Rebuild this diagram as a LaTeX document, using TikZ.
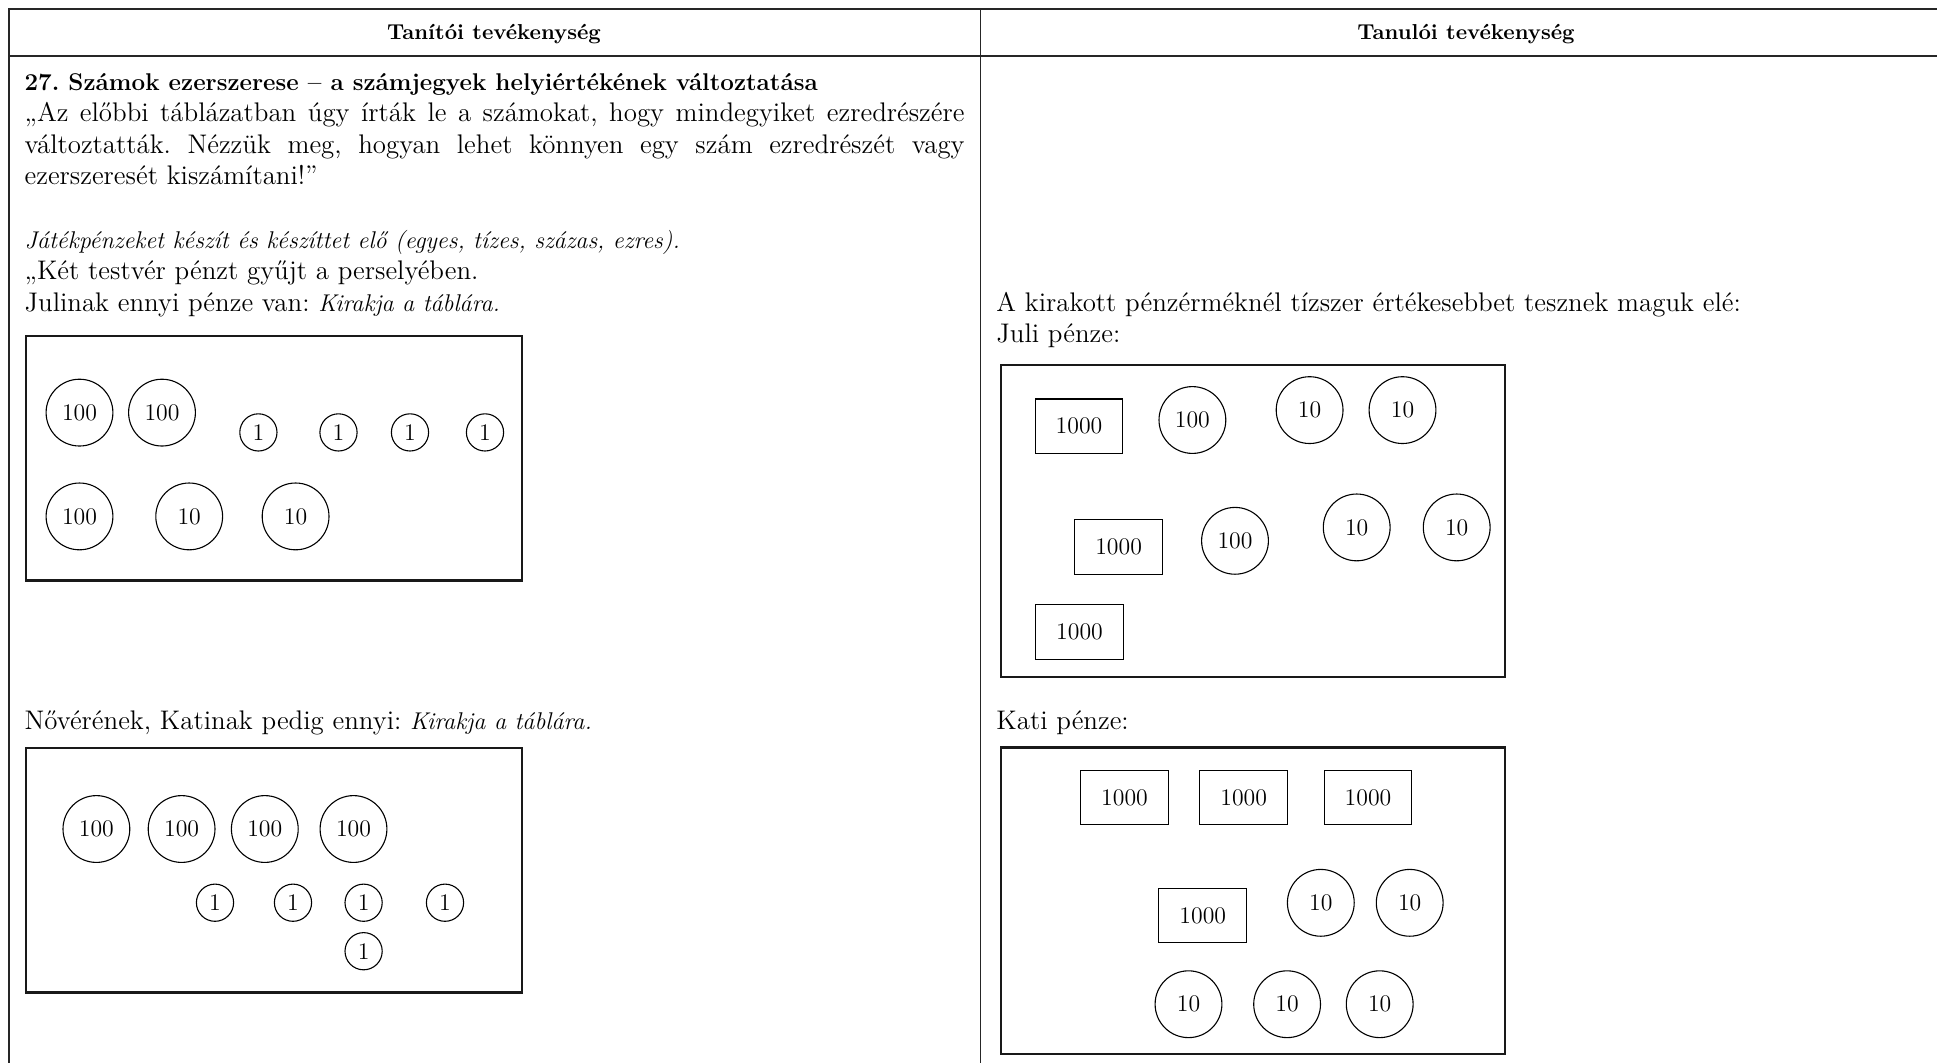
\documentclass[tikz,border=0pt]{standalone}
\newcommand\bodyfont{\fontsize{13.45}{15.8}\selectfont\frenchspacing}
\newcommand\itfont{\fontsize{12.1}{15.8}\selectfont\itshape}
\newcommand\titlefont{\fontsize{12.1}{15.8}\selectfont\bfseries\frenchspacing}
\newcommand\headfont{\fontsize{10.8}{13}\selectfont\bfseries}
\newcommand\coinfont{\fontsize{11.9}{12}\selectfont}
\tikzset{
  tbl/.style={line width=0.8pt, black!85},
  divider/.style={line width=0.65pt, black!85},
  board/.style={line width=1.35pt, black!90},
  coin/.style={circle, draw, line width=0.55pt, minimum size=33.4pt, inner sep=0pt, font=\coinfont},
  smallcoin/.style={circle, draw, line width=0.55pt, minimum size=18.6pt, inner sep=0pt, font=\coinfont},
  note/.style={rectangle, draw, line width=0.55pt, minimum width=43.9pt, minimum height=27.35pt, inner sep=0pt, font=\coinfont},
  body/.style={anchor=base west, inner sep=0pt, font=\bodyfont},
  head/.style={anchor=base, inner sep=0pt, font=\headfont},
}
\begin{document}
\begin{tikzpicture}[x=0.5pt, y=-0.5pt]
\fill[white] (0,0) rectangle (1937,1062);
\useasboundingbox (0,0) rectangle (1937,1062);
% table
\coordinate (tl) at (8.7,8.7);
\coordinate (tr) at (1945,8.7);
\coordinate (bl) at (8.7,1070);
\coordinate (hl) at (8.7,56);
\coordinate (hr) at (1945,56);
\coordinate (dt) at (980.7,8.7);
\coordinate (db) at (980.7,1070);
\draw[tbl] (tr) -- (tl) -- (bl);
\draw[tbl] (hl) -- (hr);
\draw[divider] (dt) -- (db);
\node[head] (h1) at (494,39) {Tanítói tevékenység};
\node[head] (h2) at (1466,39) {Tanulói tevékenység};
% left column text
\node[body, font=\titlefont] (title) at (24.2,90) {27. Számok ezerszerese – a számjegyek helyiértékének változtatása};
\node[body] (q1) at (24.2,121.6) {\makebox[470pt][s]{„Az előbbi táblázatban úgy írták le a számokat, hogy mindegyiket ezredrészére}};
\node[body] (q2) at (24.2,153.2) {\makebox[470pt][s]{változtatták. Nézzük meg, hogyan lehet könnyen egy szám ezredrészét vagy}};
\node[body] (q3) at (24.2,184.8) {ezerszeresét kiszámítani!”};
\node[body, font=\itfont] (instr) at (24.2,248) {Játékpénzeket készít és készíttet elő (egyes, tízes, százas, ezres).};
\node[body] (q4) at (24.2,279.6) {„Két testvér pénzt gyűjt a perselyében.};
\node[body] (q5) at (24.2,311.2) {Julinak ennyi pénze van: {\itfont Kirakja a táblára.}};
\node[body] (q6) at (24.2,729) {Nővérének, Katinak pedig ennyi: {\itfont Kirakja a táblára.}};
% right column text
\node[body] (r1) at (996,311.2) {A kirakott pénzérméknél tízszer értékesebbet tesznek maguk elé:};
\node[body] (r2) at (996,342.8) {Juli pénze:};
\node[body] (r3) at (996,729) {Kati pénze:};
% boards
\draw[board] (26,336) rectangle (522,580.6);
\draw[board] (26,748) rectangle (522,992.3);
\draw[board] (1001,365) rectangle (1505,677);
\draw[board] (1001,747.5) rectangle (1505,1054);
% board 1
\node[coin] (a1) at (79.5,412.6) {100};
\node[coin] (a2) at (162,412.6) {100};
\node[smallcoin] (a3) at (258.4,432.4) {1};
\node[smallcoin] (a4) at (338.5,432.4) {1};
\node[smallcoin] (a5) at (410,432.4) {1};
\node[smallcoin] (a6) at (485,432.4) {1};
\node[coin] (a7) at (79.5,516.4) {100};
\node[coin] (a8) at (189.2,516.4) {10};
\node[coin] (a9) at (295.6,516.4) {10};
% board 2
\node[coin] (b1) at (96.4,829) {100};
\node[coin] (b2) at (181.6,829) {100};
\node[coin] (b3) at (264.8,829) {100};
\node[coin] (b4) at (353.5,829) {100};
\node[smallcoin] (b5) at (215,902.7) {1};
\node[smallcoin] (b6) at (293,902.7) {1};
\node[smallcoin] (b7) at (363.6,902.7) {1};
\node[smallcoin] (b8) at (445,902.7) {1};
\node[smallcoin] (b9) at (363.6,951.2) {1};
% board 3
\node[note] (c1) at (1079,426.3) {1000};
\node[coin] (c2) at (1192.4,420) {100};
\node[coin] (c3) at (1309.6,410.1) {10};
\node[coin] (c4) at (1402.5,410.1) {10};
\node[note] (c5) at (1118.6,546.9) {1000};
\node[coin] (c6) at (1235,540.8) {100};
\node[coin] (c7) at (1356.7,527.4) {10};
\node[coin] (c8) at (1456.7,527.4) {10};
\node[note] (c9) at (1079.5,632) {1000};
% board 4
\node[note] (d1) at (1124.5,797.5) {1000};
\node[note] (d2) at (1243.7,797.5) {1000};
\node[note] (d3) at (1368,797.5) {1000};
\node[note] (d4) at (1202.8,915.5) {1000};
\node[coin] (d5) at (1320.8,902.8) {10};
\node[coin] (d6) at (1409.7,902.8) {10};
\node[coin] (d7) at (1188.5,1004.2) {10};
\node[coin] (d8) at (1287.1,1004.2) {10};
\node[coin] (d9) at (1379.7,1004.2) {10};
\end{tikzpicture}
\end{document}
